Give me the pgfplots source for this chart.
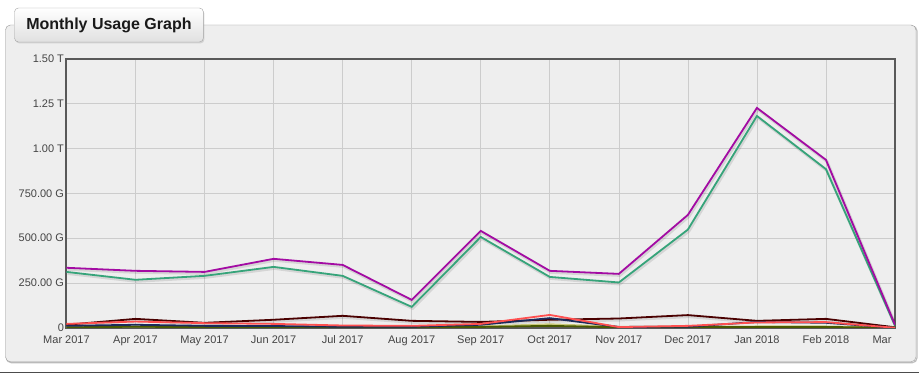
\documentclass[border=0pt]{standalone}
\usepackage{pgfplots}
\pgfplotsset{compat=1.18}
\usepackage{fontspec}
\setmainfont{Liberation Sans}
\usetikzlibrary{shadows}
\definecolor{cmag}{HTML}{A30BA3}
\definecolor{cgreen}{HTML}{36A47A}
\definecolor{cmaroon}{HTML}{4A0000}
\definecolor{cred}{HTML}{FF5050}
\definecolor{cnavy}{HTML}{1A2A5A}
\definecolor{colive}{HTML}{4A5A00}
\definecolor{cpale}{HTML}{C8C878}
\definecolor{cpanel}{HTML}{EEEEEE}
\definecolor{ctext}{HTML}{444444}
\pgfplotsset{shadowline/.style={draw=black, opacity=0.10, line width=3pt, xshift=1pt, yshift=-1.5pt, forget plot}}
\begin{document}
\begin{tikzpicture}[x=1pt,y=1pt]
\fill[white] (0,0) rectangle (921,378);
\draw[black!25, line width=1.2pt, rounded corners=5pt] (6,15) rectangle (917,352);
\draw[fill=cpanel, draw=black!40, rounded corners=5pt] (5,16) rectangle (916,353);
\draw[black!70, line width=1pt] (0,5) -- (919,5);
\begin{axis}[
  at={(66pt,50pt)}, anchor=south west,
  scale only axis, width=829pt, height=269pt,
  xmin=0, xmax=12, ymin=0, ymax=1500,
  xtick={0,...,12},
  xticklabels={Mar 2017,Apr 2017,May 2017,Jun 2017,Jul 2017,Aug 2017,Sep 2017,Oct 2017,Nov 2017,Dec 2017,Jan 2018,Feb 2018,Mar\hspace*{26pt}},
  ytick={0,250,500,750,1000,1250,1500},
  yticklabels={0,250.00 G,500.00 G,750.00 G,1.00 T,1.25 T,1.50 T},
  major tick length=0pt,
  grid=major,
  grid style={draw=black!20, line width=0.6pt},
  axis line style={draw=black!65, line width=2pt},
  axis background/.style={fill=cpanel},
  ticklabel style={font=\fontsize{11}{13}\selectfont, text=ctext},
  xticklabel style={yshift=-4.5pt},
  yticklabel style={xshift=1pt},
  every axis plot/.append style={line width=1.8pt, mark=none},
]
\addplot[shadowline] coordinates {(0,312)(1,268)(2,290)(3,340)(4,290)(5,117)(6,507)(7,284)(8,253)(9,548)(10,1182)(11,885)(12,12)};
\addplot[cgreen] coordinates {(0,312)(1,268)(2,290)(3,340)(4,290)(5,117)(6,507)(7,284)(8,253)(9,548)(10,1182)(11,885)(12,12)};
\addplot[shadowline] coordinates {(0,335)(1,318)(2,312)(3,385)(4,351)(5,156)(6,541)(7,318)(8,301)(9,630)(10,1227)(11,937)(12,17)};
\addplot[cmag] coordinates {(0,335)(1,318)(2,312)(3,385)(4,351)(5,156)(6,541)(7,318)(8,301)(9,630)(10,1227)(11,937)(12,17)};
\addplot[shadowline] coordinates {(0,17)(1,50)(2,28)(3,45)(4,67)(5,39)(6,33)(7,45)(8,52)(9,71)(10,39)(11,50)(12,3)};
\addplot[cmaroon] coordinates {(0,17)(1,50)(2,28)(3,45)(4,67)(5,39)(6,33)(7,45)(8,52)(9,71)(10,39)(11,50)(12,3)};
\addplot[cpale] coordinates {(0,6)(1,8)(2,6)(3,6)(4,5)(5,5)(6,8)(7,20)(8,6)(9,6)(10,8)(11,8)(12,1)};
\addplot[colive] coordinates {(0,3)(1,6)(2,4)(3,4)(4,3)(5,3)(6,5)(7,11)(8,3)(9,4)(10,5)(11,5)(12,0)};
\addplot[cnavy] coordinates {(0,11)(1,17)(2,11)(3,10)(4,6)(5,6)(6,17)(7,54)(8,5)(9,6)(10,33)(11,28)(12,0)};
\addplot[cred] coordinates {(0,22)(1,35)(2,26)(3,22)(4,13)(5,11)(6,22)(7,72)(8,4)(9,11)(10,30)(11,32)(12,0)};
\end{axis}
\node[draw=black!35, rounded corners=4pt, top color=white, bottom color=black!12, minimum width=189pt, minimum height=34pt, drop shadow={opacity=0.25, shadow xshift=1pt, shadow yshift=-1.5pt}, font=\fontsize{16}{19}\selectfont\bfseries, text=black!90] at (108.5,353) {Monthly Usage Graph};
\end{tikzpicture}
\end{document}
